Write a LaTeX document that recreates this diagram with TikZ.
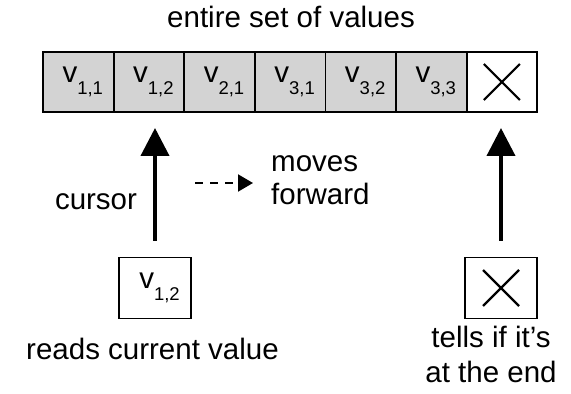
\documentclass[tikz,border=0pt]{standalone}
\usepackage{fontspec}
\setmainfont{Liberation Sans}
\usepackage{xcolor}
\usetikzlibrary{arrows.meta}

\definecolor{cellgray}{RGB}{211,211,211}
\newcommand{\val}[1]{\hspace{9pt}v\raisebox{-12pt}{\fontsize{18.5}{18.5}\selectfont #1}}

\begin{document}
\begin{tikzpicture}[x=1pt,y=1pt,
    lbl/.style={font=\fontsize{29.5}{35}\selectfont, inner sep=0pt},
    cell/.style={draw, line width=1.8pt, fill=cellgray, minimum width=70.6pt,
        minimum height=60pt, inner sep=0pt, font=\fontsize{29.5}{35}\selectfont},
    bigarrow/.style={line width=4pt, -{Triangle[width=28pt,length=28pt]}},
    cross/.style={line width=2.2pt}]
\useasboundingbox (0,0) rectangle (571,394);

% Title
\node[lbl, anchor=base] (title) at (291,366) {entire set of values};

% Row of values
\foreach \i/\s in {1/{1,1},2/{1,2},3/{2,1},4/{3,1},5/{3,2},6/{3,3}} {
    \node[cell] (c\i) at ({43+70.6*(\i-0.5)},312) {\val{\s}};
}

% End marker in the row
\node[cell, fill=white] (c7) at ({43+70.6*6.5},312) {};
\draw[cross] (c7.center) +(-18,-18) -- +(18,18);
\draw[cross] (c7.center) +(-18,18) -- +(18,-18);

% Cursor box and arrow
\node[cell, fill=white, minimum width=72pt, minimum height=61pt] (cur) at (155,106) {\val{1,2}};
\coordinate (curtip) at (155,266);
\draw[bigarrow, shorten <=16pt] (cur.north) -- (curtip);
\node[lbl, anchor=base] (cursor) at (96,184) {cursor};

% Moves forward
\coordinate (dashstart) at (195,211);
\coordinate (dashend) at (253,211);
\draw[line width=2pt, dash pattern=on 8pt off 7pt, -{Triangle[width=17pt,length=15pt]}] (dashstart) -- (dashend);
\node[lbl, anchor=base west, align=left, font=\fontsize{29.5}{33}\selectfont] (moves) at (271,189) {moves\\forward};

% End box and arrow
\node[cell, fill=white, minimum width=72pt, minimum height=61pt] (endbox) at (501,106) {};
\draw[cross] (endbox.center) +(-18,-18) -- +(18,18);
\draw[cross] (endbox.center) +(-18,18) -- +(18,-18);
\coordinate (endtip) at (501,266);
\draw[bigarrow, shorten <=16pt] (endbox.north) -- (endtip);

% Captions
\node[lbl, anchor=base] (reads) at (152.5,34) {reads current value};
\node[lbl, anchor=base, align=center, font=\fontsize{29.5}{36}\selectfont] (tells) at (491,11) {tells if it's\\at the end};
\end{tikzpicture}
\end{document}
